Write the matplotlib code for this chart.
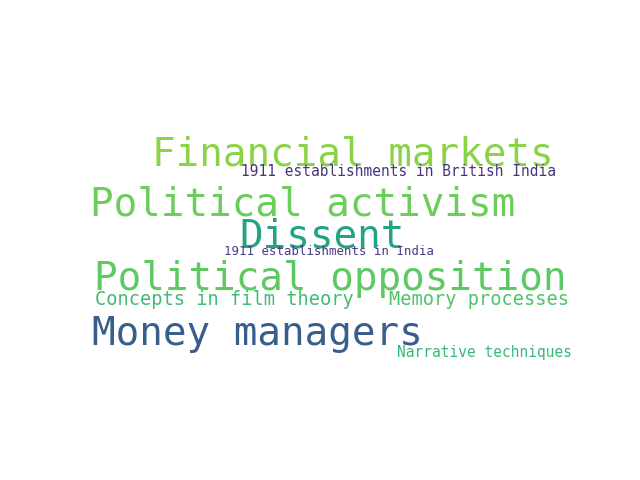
import matplotlib
matplotlib.use("Agg")
import matplotlib.pyplot as plt

# 단어와 가중치
words = [
    "Financial markets",
    "1911 establishments in British India",
    "Political activism",
    "Dissent",
    "1911 establishments in India",
    "Political opposition",
    "Concepts in film theory",
    "Memory processes",
    "Money managers",
    "Narrative techniques",
]
weights = [1.0, 0.37, 1.0, 1.0, 0.315, 1.0, 0.475, 0.475, 1.0, 0.37]

# 배치 (픽셀 좌표, 왼쪽 x / 기준선 y)
pos_x = [152, 241, 90, 239, 224, 94, 95, 389, 92, 397]
pos_y = [165, 176, 215, 247, 255, 290, 305, 305, 345, 357]
colors = ["#8bd346", "#46327e", "#6ccd5a", "#22a384", "#443a83",
          "#5ec962", "#3fbc73", "#4ec36b", "#3a5e8c", "#35b779"]

fig = plt.figure(figsize=(6.4, 4.8), dpi=100)
ax = fig.add_axes([0, 0, 1, 1])
ax.set_xlim(0, 640)
ax.set_ylim(480, 0)
ax.axis("off")

base = 28.3
for w, s, x, y, c in zip(words, weights, pos_x, pos_y, colors):
    ax.text(x, y, w, fontsize=base * s, color=c, family="DejaVu Sans Mono",
            ha="left", va="baseline")

fig.savefig("out.png", dpi=100, facecolor="white")
